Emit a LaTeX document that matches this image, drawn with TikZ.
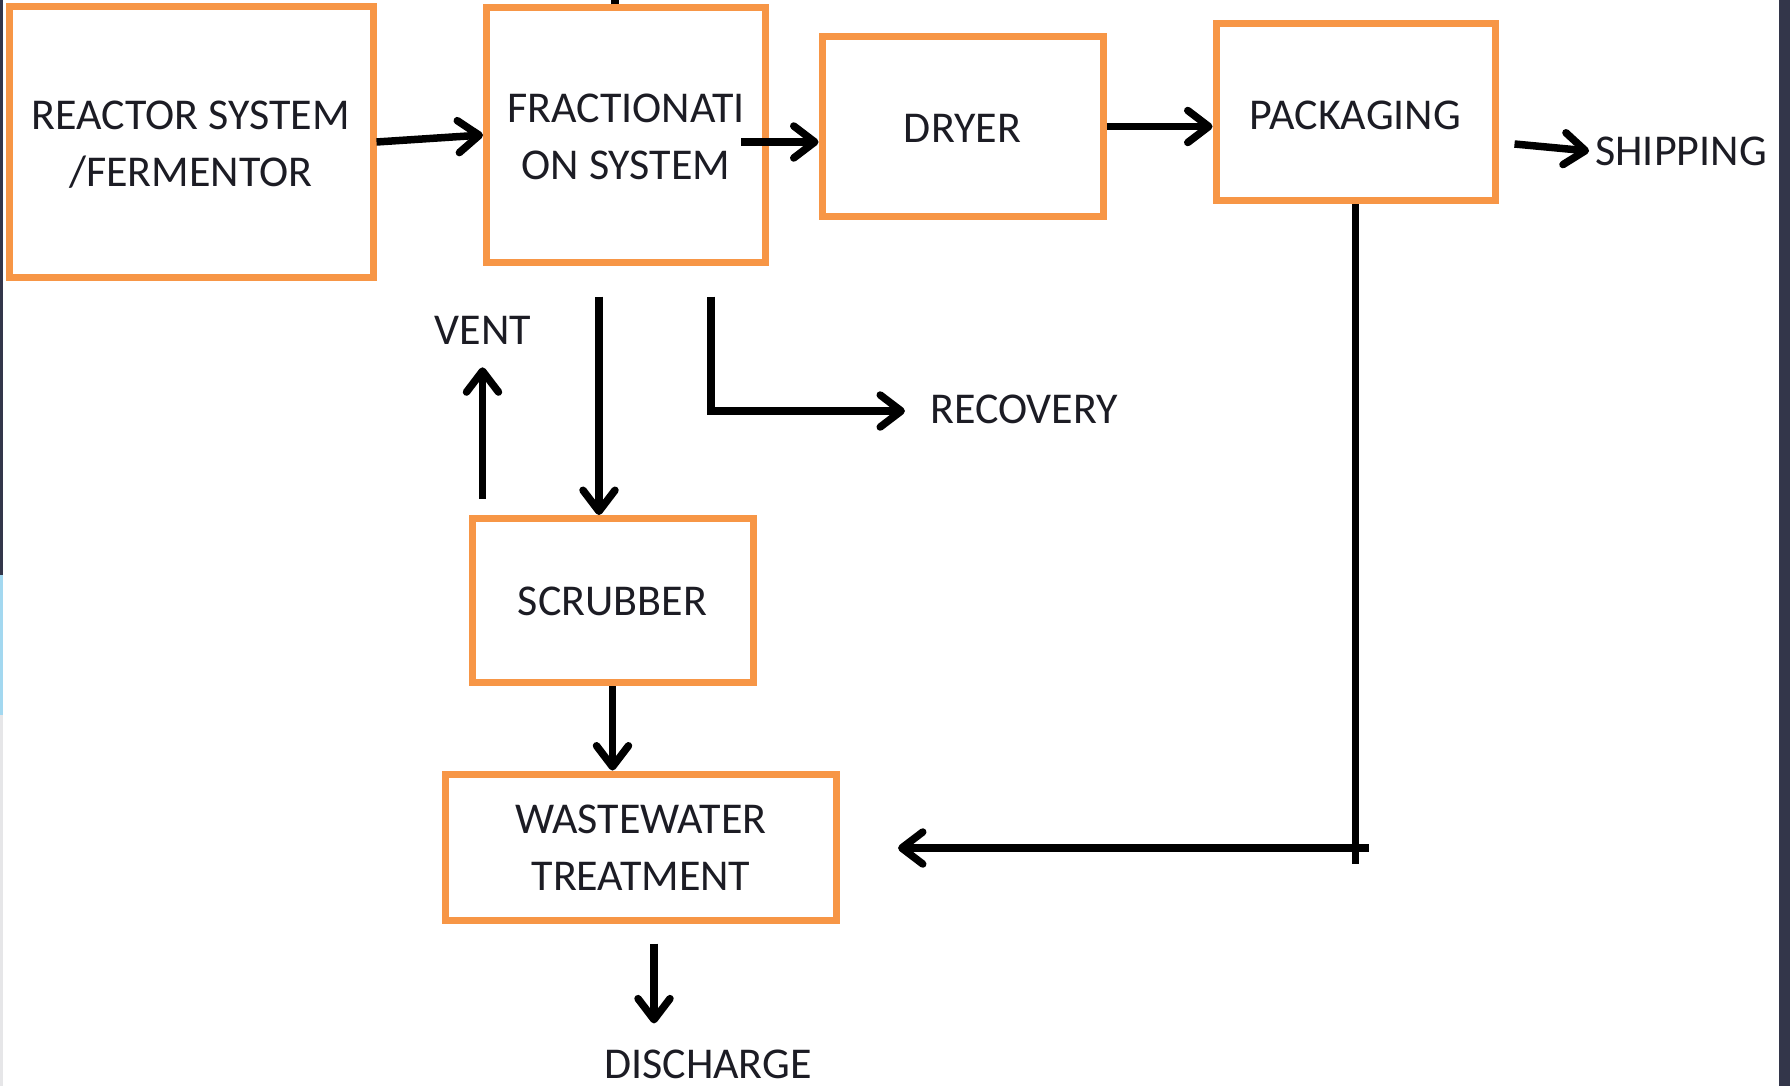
\documentclass[tikz,border=0pt]{standalone}
\usepackage{fontspec}
\setmainfont{Carlito}
\usetikzlibrary{arrows.meta,calc}
\definecolor{boxorange}{HTML}{F79646}
\definecolor{txt}{HTML}{1C1C24}
\definecolor{edgedark}{HTML}{33364A}
\definecolor{edgeblue}{HTML}{A3D8F0}
\definecolor{edgegrey}{HTML}{E6E6E8}
\newcommand\lblfont{\fontsize{44}{57}\selectfont}
\begin{document}
\begin{tikzpicture}[x=1pt,y=-1pt,
  box/.style={draw=boxorange, line width=7pt, fill=white, inner sep=0pt},
  lbl/.style={inner sep=0pt, font=\lblfont, text=txt, align=center},
  ln/.style={draw=black, line width=7.5pt},
  arr/.style={ln, -{Straight Barb[length=21pt,width=32pt,round]}}]
\useasboundingbox (0,0) rectangle (1790,1086);
\fill[white] (0,0) rectangle (1790,1086);
\fill[edgedark] (0,0) rectangle (3,575);
\fill[edgeblue] (0,575) rectangle (3,715);
\fill[edgegrey] (0,715) rectangle (3,1086);
\fill[edgedark] (1779,0) rectangle (1790,1086);

\node[box, minimum width=364pt, minimum height=270pt,
  label={[lbl,yshift=-2.5pt]center:REACTOR SYSTEM\\/FERMENTOR}] (reactor) at (191,142) {};
\node[box, minimum width=279pt, minimum height=254pt,
  label={[lbl,yshift=-2.3pt]center:FRACTIONATI\\ON SYSTEM}] (frac) at (626,135) {};
\node[box, minimum width=281pt, minimum height=179pt,
  label={[lbl,yshift=-2.3pt]center:DRYER}] (dryer) at (962.5,126.5) {};
\node[box, minimum width=279pt, minimum height=177pt,
  label={[lbl,yshift=-3.4pt]center:PACKAGING}] (pack) at (1355.5,112) {};
\node[box, minimum width=281pt, minimum height=164pt,
  label={[lbl,yshift=-1.1pt]center:SCRUBBER}] (scrub) at (612.5,600.5) {};
\node[box, minimum width=391pt, minimum height=146pt,
  label={[lbl,yshift=-1.1pt]center:WASTEWATER\\TREATMENT}] (ww) at (641,847) {};

\node[lbl] (vent) at (483,330) {VENT};
\node[lbl] (recovery) at (1024,409) {RECOVERY};
\node[lbl] (shipping) at (1681,151) {SHIPPING};
\node[lbl] (discharge) at (708,1064) {DISCHARGE};

% main line
\draw[arr] (reactor.east) -- (frac.west);
\draw[arr] ($(frac.east)+(-28,7)$) -- ($(dryer.west)+(0,15.5)$);
\draw[arr] (dryer.east) -- (dryer.east -| pack.west);
\draw[arr] ($(pack.east)+(16,32)$) -- ($(shipping.west)+(-6,0)$);
\draw[ln] ($(frac.north)+(-11,0)$) -- ++(0,-8);

% fractionation outputs
\coordinate (fs1) at ($(frac.south)+(-27,31)$);
\draw[arr] (fs1) -- (fs1 |- scrub.north);
\coordinate (fs2) at ($(frac.south)+(85,31)$);
\draw[arr] (fs2) |- ($(recovery.west)+(-25,2)$);

% scrubber
\coordinate (sv) at ($(scrub.north west)+(14,-16.5)$);
\draw[arr] (sv) -- ($(sv |- vent.south)+(0,23)$);
\draw[arr] (scrub.south) -- (scrub.south |- ww.north);

% packaging to wastewater
\draw[ln] (pack.south) -- ++(0,660);
\draw[arr] ($(pack.south |- ww.east)+(13,1)$) -- ($(ww.east)+(58,1)$);

% discharge
\coordinate (wd) at ($(ww.south)+(13,20)$);
\draw[arr] (wd) -- ($(wd |- discharge.north)+(0,-26)$);
\end{tikzpicture}
\end{document}
